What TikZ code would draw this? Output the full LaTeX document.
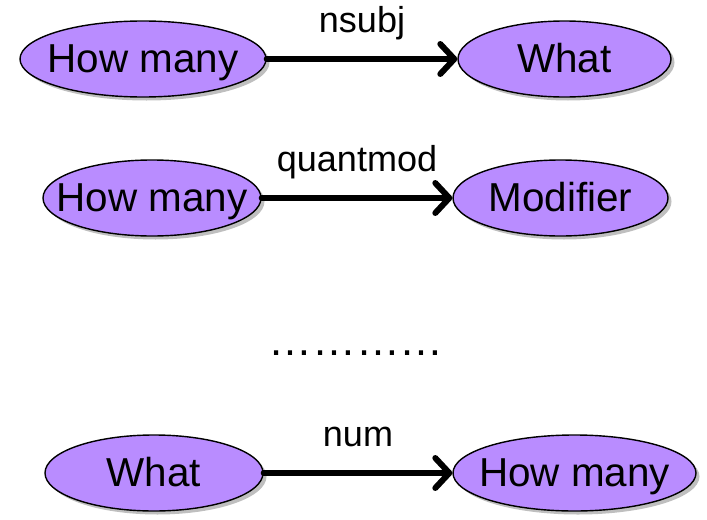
\documentclass[tikz,border=0pt]{standalone}
\usepackage{fontspec}
\setmainfont{Liberation Sans}
\usetikzlibrary{arrows.meta, shapes.geometric, shadows}

\definecolor{wordfill}{RGB}{185,140,255}
% zero-width text, so the ellipse keeps its minimum size
\newcommand\wordbox[1]{\makebox[0pt][c]{#1}}

\begin{document}
\begin{tikzpicture}[
  word/.style={ellipse, draw=black, line width=0.8pt, fill=wordfill, inner sep=0pt,
    minimum height=1.52cm, text height=15pt, text depth=0pt,
    font=\fontsize{23}{26}\selectfont,
    drop shadow={shadow xshift=0.07cm, shadow yshift=-0.07cm, fill=black!50}},
  dep/.style={line width=3.4pt, line cap=round,
    -{Straight Barb[length=0.28cm, width=0.6cm, line cap=round, line join=round]}},
  rel/.style={midway, anchor=base, yshift=0.53cm, font=\fontsize{20.5}{24}\selectfont}
]
\useasboundingbox (0,0) rectangle (14.14,10.38);

% first row
\node[word, minimum width=4.92cm] (hm1) at (2.86,9.20) {\wordbox{How many}};
\node[word, minimum width=4.26cm] (what1) at (11.29,9.20) {\wordbox{What}};
\draw[dep] (hm1) -- (what1) node[rel] {nsubj};

% second row
\node[word, minimum width=4.36cm] (hm2) at (3.04,6.42) {\wordbox{How many}};
\node[word, minimum width=4.30cm] (mod2) at (11.21,6.42) {\wordbox{Modifier}};
\draw[dep] (hm2) -- (mod2) node[rel] {quantmod};

\node[font=\fontsize{25}{28}\selectfont] (dots) at (7.12,3.32) {…………};

% last row
\node[word, minimum width=4.36cm] (what4) at (3.08,0.92) {\wordbox{What}};
\node[word, minimum width=4.86cm] (hm4) at (11.49,0.92) {\wordbox{How many}};
\draw[dep] (what4) -- (hm4) node[rel] {num};
\end{tikzpicture}
\end{document}
